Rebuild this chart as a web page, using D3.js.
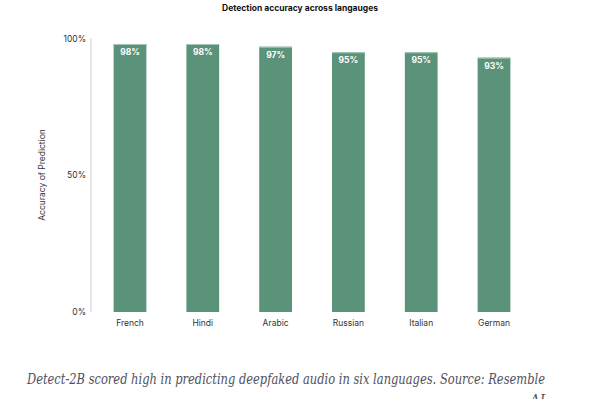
<!DOCTYPE html>
<html>
<head>
    <meta charset="utf-8">
    <title>Detection accuracy across langauges</title>
    <style>
        body { margin: 0; background: #fff; }
        svg { display: block; }
    </style>
</head>
<body>
    <div id="chart"></div>
    <script src="https://d3js.org/d3.v7.min.js"></script>
    <script>
        // data
        const languages = ["French", "Hindi", "Arabic", "Russian", "Italian", "German"];
        const accuracy = [98, 98, 97, 95, 95, 93];
        const yTicks = [0, 50, 100];

        const width = 597, height = 399;
        const svg = d3.select('#chart').append('svg')
            .attr('width', width)
            .attr('height', height);

        const x = d3.scaleBand()
            .domain(languages)
            .range([93.6, 530.4])
            .paddingInner(0.55)
            .paddingOuter(0.275);

        const y = d3.scaleLinear()
            .domain([0, 100])
            .range([312, 38.5]);

        // title
        svg.append('text')
            .attr('x', 300)
            .attr('y', 11)
            .attr('text-anchor', 'middle')
            .style('font-family', 'Inter, "Noto Sans", sans-serif')
            .style('font-size', '8.5px')
            .style('font-weight', 'bold')
            .style('fill', '#111')
            .text('Detection accuracy across langauges');

        // y axis line
        svg.append('line')
            .attr('x1', 91).attr('x2', 91)
            .attr('y1', y(100)).attr('y2', y(0))
            .style('stroke', '#ccc')
            .style('stroke-width', 1);

        // y tick labels
        svg.append('g').selectAll('text')
            .data(yTicks)
            .enter().append('text')
            .attr('x', 86)
            .attr('y', d => y(d) + 3)
            .attr('text-anchor', 'end')
            .style('font-family', 'Inter, "Noto Sans", sans-serif')
            .style('font-size', '8.5px')
            .style('fill', '#333')
            .text(d => d + '%');

        // y axis title
        svg.append('text')
            .attr('transform', 'translate(45,175) rotate(-90)')
            .attr('text-anchor', 'middle')
            .style('font-family', 'Inter, "Noto Sans", sans-serif')
            .style('font-size', '8.5px')
            .style('fill', '#333')
            .text('Accuracy of Prediction');

        const data = languages.map((l, i) => ({ lang: l, value: accuracy[i] }));

        // bars
        svg.append('g').selectAll('rect')
            .data(data)
            .enter().append('rect')
            .attr('x', d => x(d.lang))
            .attr('y', d => y(d.value))
            .attr('width', x.bandwidth())
            .attr('height', d => y(0) - y(d.value))
            .style('fill', '#5a937a');

        // light top edge
        svg.append('g').selectAll('line')
            .data(data)
            .enter().append('line')
            .attr('x1', d => x(d.lang))
            .attr('x2', d => x(d.lang) + x.bandwidth())
            .attr('y1', d => y(d.value) + 0.5)
            .attr('y2', d => y(d.value) + 0.5)
            .style('stroke', '#a9c9ba')
            .style('stroke-width', 1);

        // value labels
        svg.append('g').selectAll('text')
            .data(data)
            .enter().append('text')
            .attr('x', d => x(d.lang) + x.bandwidth() / 2)
            .attr('y', d => y(d.value) + 11)
            .attr('text-anchor', 'middle')
            .style('font-family', 'Inter, "Noto Sans", sans-serif')
            .style('font-size', '8.5px')
            .style('font-weight', 'bold')
            .style('fill', '#fff')
            .text(d => d.value + '%');

        // category labels
        svg.append('g').selectAll('text')
            .data(data)
            .enter().append('text')
            .attr('x', d => x(d.lang) + x.bandwidth() / 2)
            .attr('y', 326)
            .attr('text-anchor', 'middle')
            .style('font-family', 'Inter, "Noto Sans", sans-serif')
            .style('font-size', '8.5px')
            .style('fill', '#333')
            .text(d => d.lang);

        // caption
        svg.append('text')
            .attr('x', 27)
            .attr('y', 384)
            .attr('textLength', 518)
            .attr('lengthAdjust', 'spacingAndGlyphs')
            .style('font-family', '"DejaVu Serif Condensed", "DejaVu Serif", serif')
            .style('font-style', 'italic')
            .style('font-size', '15px')
            .style('fill', '#50515e')
            .text('Detect-2B scored high in predicting deepfaked audio in six languages. Source: Resemble');

        svg.append('text')
            .attr('x', 545)
            .attr('y', 405)
            .attr('text-anchor', 'end')
            .style('font-family', '"DejaVu Serif Condensed", "DejaVu Serif", serif')
            .style('font-style', 'italic')
            .style('font-size', '15px')
            .style('fill', '#50515e')
            .text('AI');
    </script>
</body>
</html>
